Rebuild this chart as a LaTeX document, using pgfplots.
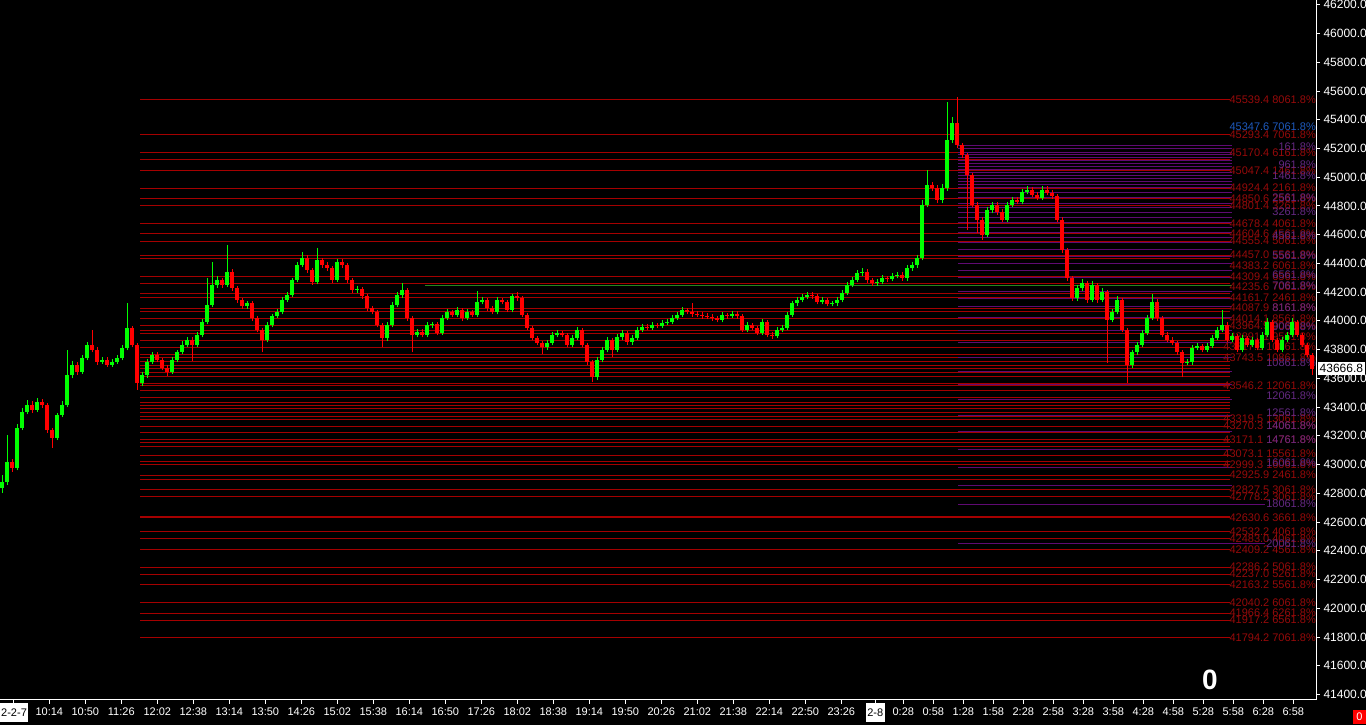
\documentclass[border=0pt]{standalone}
\usepackage{pgfplots}
\pgfplotsset{compat=1.18}
\usepackage{pgfplotstable}
\usepackage{fontspec}
\setmainfont{Liberation Sans}
\definecolor{cup}{RGB}{0,255,0}
\definecolor{cdn}{RGB}{255,0,0}
\definecolor{fibred}{RGB}{165,0,0}
\definecolor{fibtxt}{RGB}{150,10,10}
\definecolor{fibpur}{RGB}{95,10,115}
\definecolor{purtxt}{RGB}{100,40,130}
\definecolor{fibblue}{RGB}{30,90,190}
\definecolor{fibolive}{RGB}{40,135,30}

\pgfplotstableread{
x o h l c
2 42837 42927 42802 42878
7 42878 43205 42860 43018
17 42976 43280 42960 43254
22 43254 43390 43240 43365
27 43365 43450 43350 43414
37 43379 43460 43365 43435
57 43185 43360 43170 43345
62 43345 43440 43330 43414
67 43414 43797 43400 43623
72 43623 43720 43600 43693
82 43644 43760 43630 43741
87 43741 43850 43725 43832
102 43714 43750 43700 43727
112 43693 43735 43680 43714
117 43714 43760 43700 43741
122 43741 43830 43725 43811
127 43811 44124 43795 43950
142 43567 43645 43545 43623
147 43623 43735 43605 43714
152 43714 43785 43700 43762
172 43644 43745 43630 43727
177 43727 43800 43715 43783
182 43783 43860 43770 43832
187 43832 43890 43815 43867
197 43832 43920 43815 43901
202 43901 44010 43885 43992
207 43992 44298 43975 44110
212 44110 44409 44095 44249
217 44249 44310 44230 44284
227 44249 44528 44235 44340
247 44103 44140 44085 44124
267 43867 43990 43850 43971
272 43971 44050 43955 44034
277 44034 44080 44020 44061
282 44061 44165 44045 44145
287 44145 44200 44130 44180
292 44180 44300 44165 44284
297 44284 44410 44270 44389
302 44389 44479 44375 44437
317 44270 44507 44255 44423
337 44284 44430 44270 44409
357 44215 44245 44195 44220
387 43881 43990 43860 43971
392 43971 44130 43955 44110
397 44110 44200 44095 44180
402 44180 44263 44160 44215
417 43901 43945 43885 43922
427 43901 43990 43885 43971
432 43971 43995 43950 43975
442 43915 44040 43900 44020
447 44020 44080 44005 44061
457 44041 44095 44025 44075
467 44020 44080 44005 44061
477 44041 44208 44025 44131
482 44131 44165 44115 44145
497 44061 44165 44045 44145
512 44075 44190 44060 44173
547 43818 43865 43800 43846
552 43846 43920 43830 43901
557 43901 43935 43885 43915
572 43832 43900 43815 43881
577 43881 43960 43865 43936
597 43609 43745 43590 43727
602 43727 43815 43710 43797
607 43797 43885 43780 43867
617 43797 43905 43780 43888
622 43888 43935 43870 43915
632 43853 43900 43835 43881
637 43881 43955 43865 43936
642 43936 43975 43920 43957
652 43950 43990 43935 43971
662 43964 44005 43950 43985
667 43985 44010 43970 43992
672 43992 44040 43975 44020
677 44020 44060 44005 44041
682 44041 44095 44025 44075
722 44006 44060 43990 44041
732 44034 44065 44020 44048
747 43936 43990 43920 43971
762 43915 44010 43900 43992
777 43894 43955 43880 43936
782 43936 43970 43920 43950
787 43950 44060 43935 44041
792 44041 44140 44025 44124
797 44124 44165 44105 44145
802 44145 44185 44130 44166
807 44166 44200 44150 44180
822 44131 44165 44115 44145
832 44117 44140 44100 44124
837 44124 44165 44105 44145
842 44145 44215 44130 44194
847 44194 44270 44180 44249
852 44249 44305 44235 44284
857 44284 44355 44270 44333
862 44333 44365 44315 44340
877 44263 44290 44245 44270
882 44270 44320 44255 44298
892 44290 44330 44275 44312
897 44312 44340 44295 44319
907 44298 44390 44280 44368
912 44368 44410 44350 44389
917 44389 44460 44370 44437
922 44437 44841 44420 44806
927 44806 45050 44790 44945
942 44841 44950 44820 44925
947 44925 45523 44905 45259
952 45259 45420 45240 45380
987 44597 44790 44580 44771
992 44771 44825 44750 44806
1007 44702 44825 44685 44806
1012 44806 44860 44790 44841
1022 44827 44915 44810 44897
1027 44897 44935 44880 44911
1042 44855 44935 44840 44911
1077 44159 44250 44140 44229
1082 44229 44290 44210 44263
1092 44145 44275 44130 44249
1102 44145 44225 44130 44201
1112 44006 44080 43990 44061
1117 44061 44170 44045 44145
1132 43693 43800 43670 43783
1137 43783 43850 43765 43832
1142 43832 43935 43815 43915
1147 43915 44040 43900 44020
1152 44020 44187 44005 44131
1187 43707 43735 43690 43714
1192 43714 43830 43695 43811
1197 43811 43845 43795 43825
1207 43797 43845 43780 43825
1212 43825 43900 43810 43881
1217 43881 43955 43865 43936
1222 43936 44075 43920 43971
1232 43867 43915 43850 43894
1242 43797 43900 43780 43881
1252 43832 43885 43815 43867
1262 43811 43920 43795 43901
1267 43901 44020 43885 43992
1282 43797 43885 43780 43867
1287 43867 43920 43850 43901
1292 43901 44020 43885 43992
}\upc

\pgfplotstableread{
x o h l c
12 43018 43040 42950 42976
32 43414 43440 43360 43379
42 43435 43455 43395 43414
47 43414 43425 43220 43240
52 43240 43255 43115 43185
77 43693 43710 43625 43644
92 43832 43936 43780 43797
97 43797 43815 43695 43714
107 43727 43745 43680 43693
132 43950 43965 43815 43832
137 43832 43845 43519 43567
157 43762 43780 43710 43727
162 43727 43740 43655 43672
167 43672 43690 43616 43644
192 43867 43885 43720 43832
222 44284 44300 44230 44249
232 44340 44360 44210 44229
237 44229 44245 44125 44145
242 44145 44160 44085 44103
252 44124 44140 44000 44020
257 44020 44035 43920 43936
262 43936 43950 43783 43867
307 44437 44455 44335 44354
312 44354 44370 44250 44270
322 44423 44440 44370 44389
327 44389 44410 44350 44368
332 44368 44385 44265 44284
342 44409 44430 44370 44389
347 44389 44405 44265 44284
352 44284 44300 44195 44215
362 44220 44235 44155 44173
367 44173 44190 44070 44089
372 44089 44105 44045 44061
377 44061 44075 43955 43971
382 43971 43985 43818 43881
407 44215 44230 44000 44020
412 44020 44035 43783 43901
422 43922 43940 43885 43901
437 43975 43990 43900 43915
452 44061 44075 44025 44041
462 44075 44090 44000 44020
472 44061 44075 44025 44041
487 44145 44160 44070 44089
492 44089 44105 44045 44061
502 44145 44160 44115 44131
507 44131 44145 44060 44075
517 44173 44201 44140 44159
522 44159 44175 44025 44041
527 44041 44055 43935 43950
532 43950 43965 43865 43881
537 43881 43895 43830 43846
542 43846 43860 43769 43818
562 43915 43930 43885 43901
567 43901 43915 43815 43832
582 43936 43950 43815 43832
587 43832 43845 43695 43714
592 43714 43730 43574 43609
612 43867 43880 43748 43797
627 43915 43930 43835 43853
647 43957 43975 43935 43950
657 43971 43985 43950 43964
687 44075 44090 44045 44061
692 44061 44124 44030 44048
697 44048 44065 44025 44041
702 44041 44060 44015 44034
707 44034 44055 44010 44030
712 44030 44045 44000 44020
717 44020 44035 43990 44006
727 44041 44055 44015 44034
737 44048 44065 44015 44034
742 44034 44050 43920 43936
752 43971 43985 43935 43950
757 43950 43965 43900 43915
767 43992 44005 43885 43901
772 43901 43920 43875 43894
812 44180 44200 44155 44173
817 44173 44190 44115 44131
827 44145 44160 44100 44117
867 44340 44360 44265 44284
872 44284 44300 44245 44263
887 44298 44315 44270 44290
902 44319 44340 44280 44298
932 44945 44965 44905 44925
937 44925 44945 44820 44841
957 45380 45558 45200 45224
962 45224 45240 45135 45154
967 45154 45170 44632 45015
972 45015 45030 44790 44806
977 44806 44825 44611 44702
982 44702 44720 44563 44597
997 44806 44825 44740 44758
1002 44758 44775 44685 44702
1017 44841 44860 44810 44827
1032 44911 44930 44860 44876
1037 44876 44895 44840 44855
1047 44911 44940 44875 44890
1052 44890 44910 44850 44869
1057 44869 44885 44685 44702
1062 44702 44720 44475 44493
1067 44493 44510 44280 44298
1072 44298 44315 44140 44159
1087 44263 44280 44125 44145
1097 44249 44265 44125 44145
1107 44201 44215 43707 44006
1122 44145 44160 43920 43936
1127 43936 43950 43567 43693
1157 44131 44150 44000 44020
1162 44020 44035 43885 43901
1167 43901 43920 43850 43867
1172 43867 43885 43830 43846
1177 43846 43860 43765 43783
1182 43783 43800 43609 43707
1202 43825 43840 43780 43797
1227 43971 43990 43850 43867
1237 43894 43910 43780 43797
1247 43881 43895 43815 43832
1257 43867 43880 43795 43811
1272 43992 44005 43850 43867
1277 43867 43880 43780 43797
1297 43992 44005 43885 43901
1302 43901 43915 43815 43832
1307 43832 43845 43745 43762
1312 43762 43775 43623 43667
}\dnc

\begin{document}
\begin{tikzpicture}
\fill[black] (0pt,0pt) rectangle (1366pt,725pt);
\useasboundingbox (0pt,0pt) rectangle (1366pt,725pt);
\tikzset{fl/.style={font=\fontsize{11}{12}\selectfont, inner sep=0pt, anchor=east},
  fr/.style={fl, text=fibtxt}, fp/.style={fl, text=purtxt}}
\begin{axis}[
  at={(0pt,25pt)}, anchor=south west,
  scale only axis, width=1316pt, height=700pt,
  xmin=0, xmax=1316, ymin=41361, ymax=46233,
  clip=false,
  axis line style={draw=none},
  tick align=outside, major tick length=4pt,
  xtick pos=bottom, ytick pos=right,
  yticklabel pos=right,
  tick style={white, line width=0.8pt},
  scaled y ticks=false,
  ytick={41400,41600,...,46200},
  yticklabel style={font=\fontsize{12}{14}\selectfont, text=white,
     /pgf/number format/.cd, fixed, fixed zerofill, precision=1, 1000 sep={}, assume math mode=true},
  xtick={13.3,49.3,85.3,121.3,157.3,193.3,229.3,265.3,301.3,337.3,373.3,409.3,445.3,481.3,517.3,553.3,589.3,625.3,661.3,697.3,733.3,769.3,805.3,841.3,875.3,903.3,933.3,963.3,993.3,1023.3,1053.3,1083.3,1113.3,1143.3,1173.3,1203.3,1233.3,1263.3,1293.3},
  xticklabels={{},10:14,10:50,11:26,12:02,12:38,13:14,13:50,14:26,15:02,15:38,16:14,16:50,17:26,18:02,18:38,19:14,19:50,20:26,21:02,21:38,22:14,22:50,23:26,{},0:28,0:58,1:28,1:58,2:28,2:58,3:28,3:58,4:28,4:58,5:28,5:58,6:28,6:58},
  xticklabel style={font=\fontsize{11}{13}\selectfont, text=white},
  candle/.style={only marks, mark=none, mark size=0pt, mark options={draw=none, fill=none}, forget plot},
]
% red fibonacci levels
\pgfplotsinvokeforeach{45539.4,45293.4,45170.4,45120,45047.4,44924.4,44850.6,44801.4,44678.4,44604.6,44555.4,44457.0,44432.4,44309.4,44260,44187,44161.7,44087.9,44062,44014.1,43964.9,43936,43915,43866,43811,43763,43742,43714,43686,43665,43637,43610,43561,43547,43512,43463,43435,43414,43387,43359,43331,43310,43268,43220,43171.1,43150,43122,43066,43018,42997,42925.9,42899,42827.5,42778.2,42640,42630.6,42532.2,42483.0,42409.2,42286.2,42237.0,42163.2,42040.2,41966.4,41917.2,41794.2}{
  \addplot[fibred, line width=1pt, forget plot] coordinates {(140,#1) (1230,#1)};
}
% purple levels
\pgfplotsinvokeforeach{45217,45196,45175,45155,45134,45113,45092,45071,45050,45029,45008,44988,44967,44946,44925,44890,44855,44820,44786,44751,44716,44681,44647,44612,44577,44542,44493,44445,44396,44347,44299,44201,44152,44097,44020,43936,43846,43748,43644,43554,43449,43338,43227,43101,42976,42851}{
  \addplot[fibpur, line width=1pt, forget plot] coordinates {(958,#1) (1232,#1)};
}
\addplot[fibpur, line width=1pt, forget plot] coordinates {(958,42725) (1265,42725)};
\addplot[fibpur, line width=1pt, forget plot] coordinates {(958,42447) (1265,42447)};
\addplot[fibolive, line width=1pt, forget plot] coordinates {(425,44249) (1232,44249)};

% labels (red)
\node[fr] at (axis cs:1316,45539.4) {45539.4 8061.8\%};
\node[fr] at (axis cs:1316,45293.4) {45293.4 7061.8\%};
\node[fr] at (axis cs:1316,45170.4) {45170.4 6161.8\%};
\node[fr] at (axis cs:1316,45047.4) {45047.4 1461.8\%};
\node[fr] at (axis cs:1316,44924.4) {44924.4 2161.8\%};
\node[fr] at (axis cs:1316,44850.6) {44850.6 2561.8\%};
\node[fr] at (axis cs:1316,44801.4) {44801.4 3261.8\%};
\node[fr] at (axis cs:1316,44678.4) {44678.4 4061.8\%};
\node[fr] at (axis cs:1316,44604.6) {44604.6 4561.8\%};
\node[fr] at (axis cs:1316,44555.4) {44555.4 5061.8\%};
\node[fr] at (axis cs:1316,44457.0) {44457.0 5561.8\%};
\node[fr] at (axis cs:1316,44383.2) {44383.2 6061.8\%};
\node[fr] at (axis cs:1316,44309.4) {44309.4 6561.8\%};
\node[fr] at (axis cs:1316,44235.6) {44235.6 7061.8\%};
\node[fr] at (axis cs:1316,44161.7) {44161.7 2461.8\%};
\node[fr] at (axis cs:1316,44087.9) {44087.9 8161.8\%};
\node[fr] at (axis cs:1316,44014.1) {44014.1 8561.8\%};
\node[fr] at (axis cs:1316,43964.9) {43964.9 9061.8\%};
\node[fr] at (axis cs:1316,43891.1) {43891.1 9561.8\%};
\node[fr] at (axis cs:1316,43817.3) {43817.3 10061.8\%};
\node[fr] at (axis cs:1316,43743.5) {43743.5 10861.8\%};
\node[fr] at (axis cs:1316,43546.2) {43546.2 12061.8\%};
\node[fr] at (axis cs:1316,43319.5) {43319.5 13061.8\%};
\node[fr] at (axis cs:1316,43270.3) {43270.3 14061.8\%};
\node[fr] at (axis cs:1316,43171.1) {43171.1 14761.8\%};
\node[fr] at (axis cs:1316,43073.1) {43073.1 15561.8\%};
\node[fr] at (axis cs:1316,42999.3) {42999.3 16061.8\%};
\node[fr] at (axis cs:1316,42925.9) {42925.9 2461.8\%};
\node[fr] at (axis cs:1316,42827.5) {42827.5 3061.8\%};
\node[fr] at (axis cs:1316,42778.2) {42778.2 3061.8\%};
\node[fr] at (axis cs:1316,42630.6) {42630.6 3661.8\%};
\node[fr] at (axis cs:1316,42532.2) {42532.2 4061.8\%};
\node[fr] at (axis cs:1316,42483.0) {42483.0 4061.8\%};
\node[fr] at (axis cs:1316,42409.2) {42409.2 4561.8\%};
\node[fr] at (axis cs:1316,42286.2) {42286.2 5061.8\%};
\node[fr] at (axis cs:1316,42237.0) {42237.0 5261.8\%};
\node[fr] at (axis cs:1316,42163.2) {42163.2 5561.8\%};
\node[fr] at (axis cs:1316,42040.2) {42040.2 6061.8\%};
\node[fr] at (axis cs:1316,41966.4) {41966.4 6261.8\%};
\node[fr] at (axis cs:1316,41917.2) {41917.2 6561.8\%};
\node[fr] at (axis cs:1316,41794.2) {41794.2 7061.8\%};
\node[fl, text=fibblue] at (axis cs:1316,45349) {45347.6 7061.8\%};
% labels (purple)
\node[fp] at (axis cs:1316,45210) {161.8\%};
\node[fp] at (axis cs:1316,45085) {961.8\%};
\node[fp] at (axis cs:1316,45008) {1461.8\%};
\node[fp] at (axis cs:1316,44855) {2561.8\%};
\node[fp] at (axis cs:1316,44758) {3261.8\%};
\node[fp] at (axis cs:1316,44591) {4561.8\%};
\node[fp] at (axis cs:1316,44452) {5561.8\%};
\node[fp] at (axis cs:1316,44319) {6561.8\%};
\node[fp] at (axis cs:1316,44243) {7061.8\%};
\node[fp] at (axis cs:1316,44090) {8161.8\%};
\node[fp] at (axis cs:1316,43957) {9061.8\%};
\node[fp] at (axis cs:1316,43707) {10861.8\%};
\node[fp] at (axis cs:1316,43477) {12061.8\%};
\node[fp] at (axis cs:1316,43359) {12561.8\%};
\node[fp] at (axis cs:1316,43268) {14061.8\%};
\node[fp] at (axis cs:1316,43171) {14761.8\%};
\node[fp] at (axis cs:1316,43011) {16061.8\%};
\node[fp] at (axis cs:1316,42725) {18061.8\%};
\node[fp] at (axis cs:1316,42447) {20061.8\%};

% candles: wicks
\addplot[cup, candle,
  error bars/.cd, y dir=plus, y explicit, error mark=none,
  error bar style={cup, line width=1pt}]
  table[x=x, y=l, y error expr=\thisrow{h}-\thisrow{l}] {\upc};
\addplot[cdn, candle,
  error bars/.cd, y dir=plus, y explicit, error mark=none,
  error bar style={cdn, line width=1pt}]
  table[x=x, y=l, y error expr=\thisrow{h}-\thisrow{l}] {\dnc};
% candles: bodies
\addplot[cup, candle,
  error bars/.cd, y dir=plus, y explicit, error mark=none,
  error bar style={cup, line width=3.5pt}]
  table[x=x, y=o, y error expr=\thisrow{c}-\thisrow{o}] {\upc};
\addplot[cdn, candle,
  error bars/.cd, y dir=plus, y explicit, error mark=none,
  error bar style={cdn, line width=3.5pt}]
  table[x=x, y=c, y error expr=\thisrow{o}-\thisrow{c}] {\dnc};

% axis frame (bottom and right)
\draw[white, line width=1pt] (rel axis cs:0,0) -- (rel axis cs:1,0) -- (rel axis cs:1,1);
% current price box
\node[fill=white, text=black, anchor=west, font=\fontsize{12}{14}\selectfont, inner xsep=1.5pt, inner ysep=2pt] at (axis cs:1318,43666.8) {43666.8};
% big zero
\node[text=white, font=\fontsize{28}{30}\selectfont\bfseries] at (axis cs:1210,41500) {0};
\end{axis}
\node[fill=white, text=black, anchor=north west, font=\fontsize{11}{13}\selectfont, inner xsep=1pt, minimum height=19pt] at (0pt,22pt) {2-2-7};
\node[fill=white, text=black, anchor=north, font=\fontsize{11}{13}\selectfont, inner xsep=1.5pt, minimum height=19pt] at (875.3pt,22pt) {2-8};
\node[fill=red, text=white, anchor=south east, font=\fontsize{11}{13}\selectfont, inner sep=1pt, minimum width=13pt, minimum height=14pt] at (1366pt,1pt) {0};
\end{tikzpicture}
\end{document}
